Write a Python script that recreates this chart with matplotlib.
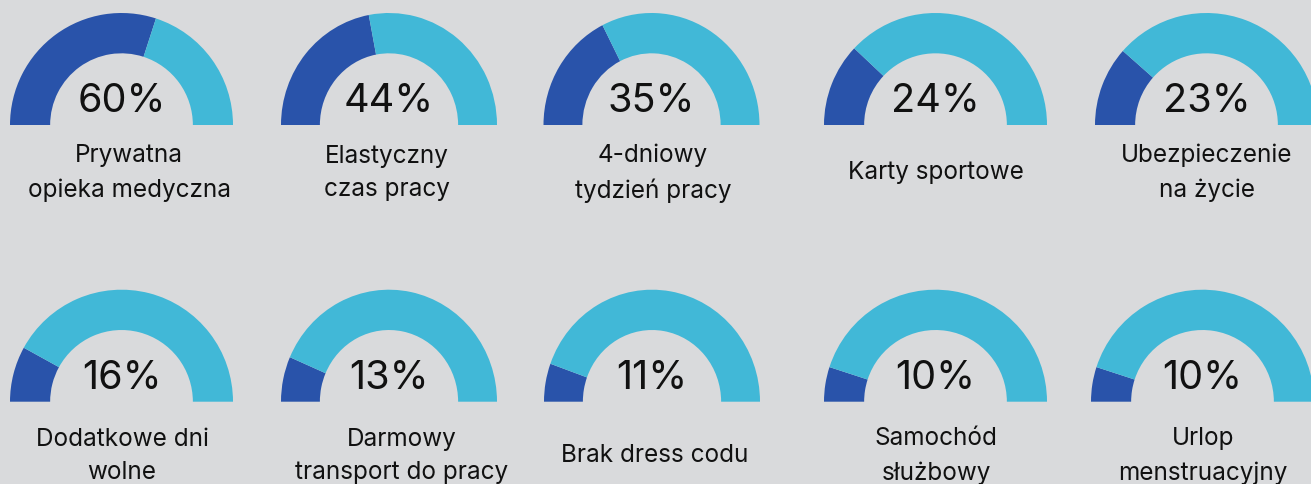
import matplotlib.pyplot as plt

# ---------------------------------------------------------------------------
# Data
# ---------------------------------------------------------------------------
labels = [
    "Prywatna\nopieka medyczna", "Elastyczny\nczas pracy", "4-dniowy\ntydzień pracy",
    "Karty sportowe", "Ubezpieczenie\nna życie",
    "Dodatkowe dni\nwolne", "Darmowy\ntransport do pracy", "Brak dress codu",
    "Samochód\nsłużbowy", "Urlop\nmenstruacyjny",
]
percents = [60, 44, 35, 24, 23, 16, 13, 11, 10, 10]

# ---------------------------------------------------------------------------
# Layout (pixels, y measured from the top)
# ---------------------------------------------------------------------------
W, H = 1311, 484
gauge_x  = [121.5, 389, 651.5, 935.5, 1206.5, 121.5, 389, 652, 935.5, 1202.5]
gauge_rx = [111.5, 108, 108, 111.5, 111.5, 111.5, 108, 108, 111.5, 111.5]
label_x  = [129, 387, 653, 936, 1207, 122, 401.5, 655, 936, 1203]
row_base = [125, 401.7]
row_label_y = [173, 456]
RY = 112
RING = 0.36

DARK = "#2953AA"
LIGHT = "#41B8D7"
BG = "#D9DADC"
INK = "#111111"


def main() -> None:
    fig = plt.figure(figsize=(W / 100, H / 100), dpi=100, facecolor=BG)
    bg = fig.add_axes([0, 0, 1, 1])
    bg.set_xlim(0, W)
    bg.set_ylim(H, 0)
    bg.axis("off")

    for i, (lab, p) in enumerate(zip(labels, percents)):
        r = i // 5
        cx, rx, base = gauge_x[i], gauge_rx[i], row_base[r]

        # half-donut: value wedge + remainder, bottom half left invisible
        ax = fig.add_axes([(cx - rx) / W, (H - base) / H, 2 * rx / W, RY / H])
        ax.pie(
            [p, 100 - p, 100],
            colors=[DARK, LIGHT, "none"],
            startangle=180, counterclock=False,
            radius=1.0,
            wedgeprops=dict(width=RING, linewidth=0),
        )
        ax.set_aspect("auto")
        ax.set_xlim(-1, 1)
        ax.set_ylim(0, 1)
        ax.axis("off")

        bg.text(cx, base - 13, f"{p}%", ha="center", va="baseline",
                fontsize=28.5, family="Inter", color=INK)
        bg.text(label_x[i], row_label_y[r], lab, ha="center", va="center",
                fontsize=17.5, family="Inter", color=INK, linespacing=1.6)

    fig.savefig("out.png", dpi=100, facecolor=BG)


if __name__ == "__main__":
    main()
